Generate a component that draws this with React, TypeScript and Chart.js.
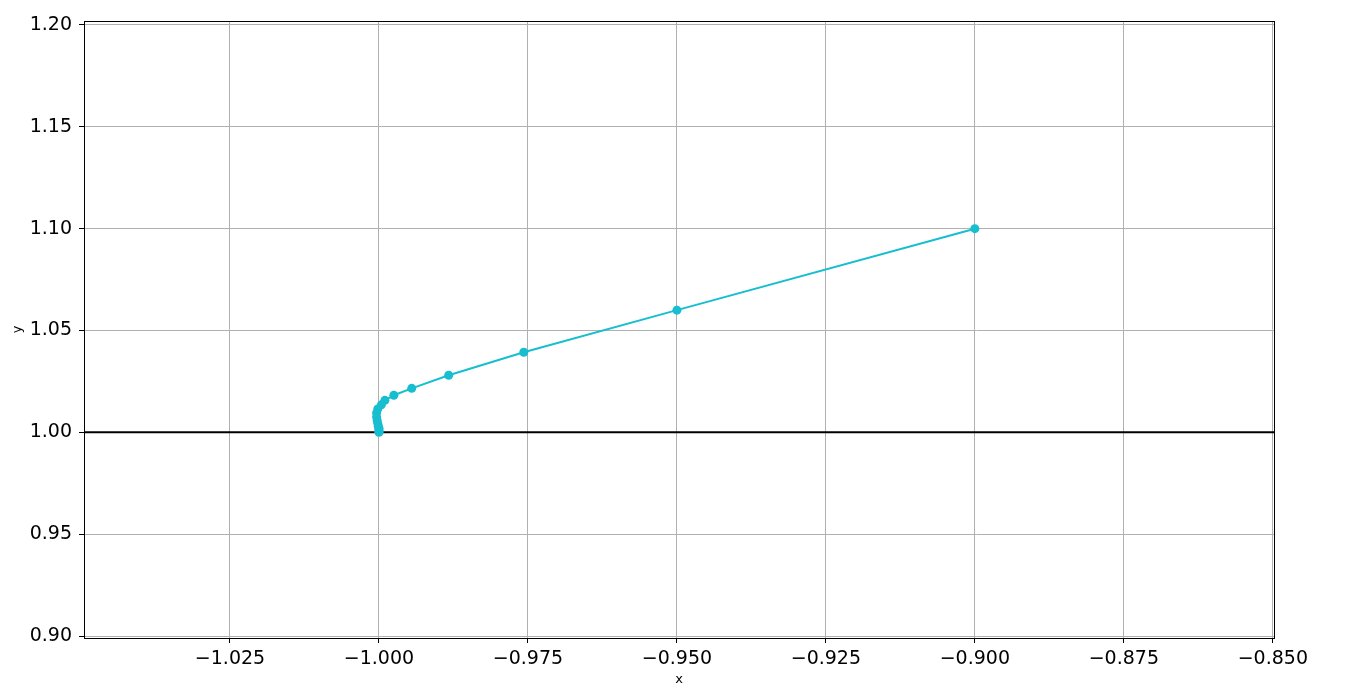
import React, { useEffect, useRef } from "react";
import { Chart, registerables } from "chart.js";

Chart.register(...registerables);

const xValues = [-0.9, -0.95, -0.9757, -0.9883, -0.9945, -0.9975, -0.999, -0.9996, -1.0002, -1.0004, -1.0004, -1.0003, -1.0002, -1.0001, -1.0, -1.0, -1.0, -1.0];
const yValues = [1.1, 1.06, 1.0393, 1.028, 1.0216, 1.0182, 1.0157, 1.0135, 1.0115, 1.0095, 1.0075, 1.0058, 1.0043, 1.003, 1.002, 1.0012, 1.0006, 1.0];
const xTicks = [-1.025, -1.0, -0.975, -0.95, -0.925, -0.9, -0.875, -0.85];
const yTicks = [0.9, 0.95, 1.0, 1.05, 1.1, 1.15, 1.2];
const REF_Y = 1.0;
const X_MIN = -1.0495;
const X_MAX = -0.8498;
const Y_MIN = 0.89902;
const Y_MAX = 1.20196;

const FONT = "'DejaVu Sans', sans-serif";
const fmt = (v: number, d: number) => v.toFixed(d).replace("-", "\u2212");

const framePlugin = {
  id: "frame",
  beforeDatasetsDraw(chart: any) {
    const { ctx, chartArea } = chart;
    const y = chart.scales.y.getPixelForValue(REF_Y);
    ctx.save();
    ctx.strokeStyle = "#000";
    ctx.lineWidth = 2;
    ctx.beginPath();
    ctx.moveTo(chartArea.left, y);
    ctx.lineTo(chartArea.right, y);
    ctx.stroke();
    ctx.restore();
  },
  afterDatasetsDraw(chart: any) {
    const { ctx, chartArea } = chart;
    ctx.save();
    ctx.strokeStyle = "#000";
    ctx.lineWidth = 1;
    ctx.strokeRect(
      Math.round(chartArea.left) + 0.5,
      Math.round(chartArea.top) + 0.5,
      Math.round(chartArea.right - chartArea.left),
      Math.round(chartArea.bottom - chartArea.top)
    );
    ctx.restore();
  },
};

export default function App() {
  const ref = useRef<HTMLCanvasElement>(null);
  useEffect(() => {
    document.body.style.margin = "0";
    const data = xValues.map((x, i) => ({ x, y: yValues[i] }));
    const chart = new Chart(ref.current!, {
      type: "scatter",
      data: {
        datasets: [
          {
            data,
            showLine: true,
            borderColor: "#17becf",
            backgroundColor: "#17becf",
            borderWidth: 2,
            pointRadius: 4.5,
            pointBorderWidth: 0,
            pointHoverRadius: 4.5,
          },
        ],
      },
      options: {
        animation: false,
        responsive: false,
        devicePixelRatio: 1,
        layout: { padding: { top: 21, right: 91, left: 0, bottom: 0 } },
        plugins: { legend: { display: false }, tooltip: { enabled: false } },
        scales: {
          x: {
            type: "linear",
            min: X_MIN,
            max: X_MAX,
            afterBuildTicks: (s: any) => {
              s.ticks = xTicks.map((v) => ({ value: v }));
            },
            afterFit: (s: any) => {
              s.height = 51;
            },
            ticks: {
              callback: (v: any) => fmt(Number(v), 3),
              font: { family: FONT, size: 19 },
              color: "#000",
              padding: 5,
              maxRotation: 0,
              autoSkip: false,
            },
            grid: { color: "#b0b0b0", lineWidth: 1, tickLength: 5, tickColor: "#000" },
            border: { display: false },
            title: {
              display: true,
              text: "x",
              font: { family: FONT, size: 13 },
              color: "#000",
              padding: { top: 0, bottom: 2 },
            },
          },
          y: {
            type: "linear",
            min: Y_MIN,
            max: Y_MAX,
            afterBuildTicks: (s: any) => {
              s.ticks = yTicks.map((v) => ({ value: v }));
            },
            afterFit: (s: any) => {
              s.width = 84;
            },
            ticks: {
              callback: (v: any) => fmt(Number(v), 2),
              font: { family: FONT, size: 19 },
              color: "#000",
              padding: 7,
              autoSkip: false,
            },
            grid: { color: "#b0b0b0", lineWidth: 1, tickLength: 5, tickColor: "#000" },
            border: { display: false },
            title: {
              display: true,
              text: "y",
              font: { family: FONT, size: 13 },
              color: "#000",
              padding: { top: 10, bottom: 0 },
            },
          },
        },
      },
      plugins: [framePlugin],
    } as any);
    return () => chart.destroy();
  }, []);
  return (
    <div style={{ position: "fixed", left: 0, top: 0, width: 1365, height: 689, background: "#fff" }}>
      <canvas ref={ref} width={1365} height={689} style={{ width: 1365, height: 689 }} />
    </div>
  );
}
